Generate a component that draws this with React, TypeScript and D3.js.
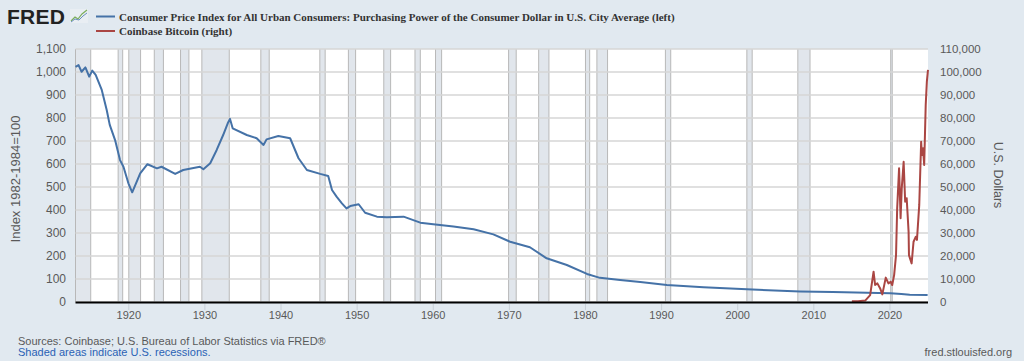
import React from "react";
import * as d3 from "d3";

// Purchasing power of the consumer dollar (index 1982-1984=100), [year, value]
const cpiPower: [number, number][] = [
  [1913.0, 1022], [1913.4, 1030], [1913.8, 1001], [1914.3, 1020], [1914.8, 980],
  [1915.2, 1006], [1915.65, 987], [1916.45, 922], [1917.1, 835], [1917.5, 770],
  [1918.2, 704], [1918.85, 617], [1919.3, 588], [1919.95, 516], [1920.45, 477],
  [1920.95, 516], [1921.5, 559], [1922.45, 599], [1923.7, 581], [1924.3, 588],
  [1926.1, 557], [1927.15, 574], [1929.35, 588], [1929.8, 577], [1930.7, 603],
  [1931.55, 661], [1932.4, 726], [1933.0, 777], [1933.3, 796], [1933.65, 755],
  [1935.5, 726], [1936.8, 712], [1937.7, 683], [1938.1, 707], [1939.65, 722],
  [1941.2, 712], [1942.3, 625], [1943.4, 574], [1945.15, 557], [1946.2, 548],
  [1946.7, 487], [1947.3, 458], [1948.0, 429], [1948.6, 407], [1949.1, 417],
  [1950.2, 425], [1951.05, 388], [1952.6, 371], [1953.9, 368], [1956.1, 371],
  [1958.3, 345], [1960.0, 338], [1962.65, 328], [1965.3, 316], [1967.9, 294],
  [1970.1, 262], [1972.7, 238], [1974.9, 190], [1977.55, 161], [1980.2, 122],
  [1981.9, 105], [1984.55, 96], [1987.2, 87], [1990.7, 74], [1995.5, 64],
  [2001.2, 55], [2008.2, 46], [2012.5, 43], [2017.0, 40], [2020.05, 38],
  [2021.5, 35], [2022.6, 32], [2024.95, 30],
];

// Coinbase Bitcoin (U.S. dollars), [year, value]
const bitcoin: [number, number][] = [
  [2015.0, 300], [2015.8, 350], [2016.75, 600], [2017.4, 3000], [2017.85, 13200],
  [2018.05, 7400], [2018.35, 8100], [2018.7, 6000], [2019.0, 3300], [2019.45, 10600],
  [2019.8, 8100], [2020.1, 8800], [2020.3, 7400], [2020.55, 11700], [2020.8, 20400],
  [2020.95, 40700], [2021.2, 58100], [2021.4, 36400], [2021.55, 49400], [2021.8, 61000],
  [2022.0, 43600], [2022.2, 45100], [2022.45, 30600], [2022.5, 20400], [2022.85, 16800],
  [2023.1, 26200], [2023.4, 28400], [2023.55, 27000], [2023.85, 42200], [2024.1, 69700],
  [2024.2, 63900], [2024.35, 66800], [2024.5, 59600], [2024.7, 85700], [2024.85, 95800],
  [2025.0, 100900],
];

// NBER recessions, [start, end]
const recessions: [number, number][] = [
  [1913.0, 1915.0], [1918.6, 1919.2], [1920.0, 1921.55], [1923.35, 1924.55],
  [1926.8, 1927.9], [1929.6, 1933.2], [1937.35, 1938.45], [1945.1, 1945.8],
  [1948.85, 1949.8], [1953.5, 1954.4], [1957.6, 1958.3], [1960.3, 1961.1],
  [1969.9, 1970.9], [1973.85, 1975.2], [1980.0, 1980.55], [1981.5, 1982.9],
  [1990.5, 1991.2], [2001.2, 2001.9], [2007.9, 2009.5], [2020.1, 2020.3],
];

const yearTicks = [1920, 1930, 1940, 1950, 1960, 1970, 1980, 1990, 2000, 2010, 2020];
const leftTicks = d3.range(0, 1101, 100);
const rightTicks = d3.range(0, 110001, 10000);

const W = 1024;
const H = 361;
const plot = { left: 75.5, right: 928, top: 49, bottom: 302 };

const App = () => {
  const x = d3.scaleLinear().domain([1913, 2025]).range([plot.left, plot.right]);
  const yL = d3.scaleLinear().domain([0, 1100]).range([plot.bottom, plot.top]);
  const yR = d3.scaleLinear().domain([0, 110000]).range([plot.bottom, plot.top]);
  const fmt = d3.format(",");

  const lineL = d3
    .line<[number, number]>()
    .x((d) => x(d[0]))
    .y((d) => yL(d[1]));
  const lineR = d3
    .line<[number, number]>()
    .x((d) => x(d[0]))
    .y((d) => yR(d[1]));

  const sans = "'Liberation Sans', Arial, sans-serif";
  const serif = "'Liberation Serif', 'Times New Roman', serif";

  return (
    <svg
      width={W}
      height={H}
      style={{ position: "absolute", left: 0, top: 0, display: "block" }}
    >
      <rect width={W} height={H} fill="#e1e9f0" />

      {/* logo */}
      <text x={7} y={24} fontFamily={sans} fontWeight="bold" fontSize={21} fill="#222" textLength={58}>
        FRED
      </text>
      <g transform="translate(70,9)">
        <rect width={18} height={14} fill="#e9eef3" />
        <polyline points="1,12 5,8 8,10 12,5 17,1" fill="none" stroke="#7cae5b" strokeWidth={1.2} />
        <polyline points="1,13 5,10 9,11 13,7 17,4" fill="none" stroke="#6b8fbf" strokeWidth={1} />
      </g>

      {/* legend */}
      <line x1={96} x2={115} y1={16.5} y2={16.5} stroke="#4572a7" strokeWidth={2} />
      <text x={119} y={20.5} fontFamily={serif} fontWeight="bold" fontSize={11} fill="#333">
        Consumer Price Index for All Urban Consumers: Purchasing Power of the Consumer Dollar in U.S. City Average (left)
      </text>
      <line x1={96} x2={115} y1={31} y2={31} stroke="#aa4643" strokeWidth={2} />
      <text x={119} y={35} fontFamily={serif} fontWeight="bold" fontSize={11} fill="#333">
        Coinbase Bitcoin (right)
      </text>

      {/* plot area */}
      <rect
        x={plot.left}
        y={plot.top}
        width={plot.right - plot.left}
        height={plot.bottom - plot.top}
        fill="#fff"
      />
      {recessions.map(([s, e], i) => (
        <g key={i}>
          <rect x={x(s)} y={plot.top} width={Math.max(1, x(e) - x(s))} height={plot.bottom - plot.top} fill="#e1e6ec" />
          <line x1={x(s)} x2={x(s)} y1={plot.top} y2={plot.bottom} stroke="#b8b8b8" strokeWidth={1} />
          <line x1={x(e)} x2={x(e)} y1={plot.top} y2={plot.bottom} stroke="#b8b8b8" strokeWidth={1} />
        </g>
      ))}
      {leftTicks.map((t) => (
        <line key={t} x1={plot.left} x2={plot.right} y1={yL(t)} y2={yL(t)} stroke="#d6d6d6" strokeWidth={1.5} />
      ))}

      {/* series */}
      <path d={lineL(cpiPower) ?? ""} fill="none" stroke="#4572a7" strokeWidth={2} strokeLinejoin="round" />
      <path d={lineR(bitcoin) ?? ""} fill="none" stroke="#aa4643" strokeWidth={2} strokeLinejoin="round" />

      {/* x axis */}
      <line x1={plot.left} x2={plot.right} y1={plot.bottom + 0.5} y2={plot.bottom + 0.5} stroke="#000" strokeWidth={2} />
      {yearTicks.map((t) => (
        <g key={t}>
          <line x1={x(t)} x2={x(t)} y1={plot.bottom + 2} y2={plot.bottom + 8} stroke="#c8d0d8" strokeWidth={1} />
          <text x={x(t)} y={319} textAnchor="middle" fontFamily={sans} fontSize={11} fill="#595959">
            {t}
          </text>
        </g>
      ))}

      {/* y axes */}
      {leftTicks.map((t) => (
        <text key={t} x={66} y={yL(t) + 4} textAnchor="end" fontFamily={sans} fontSize={12} fill="#595959">
          {fmt(t)}
        </text>
      ))}
      {rightTicks.map((t) => (
        <text key={t} x={940} y={yR(t) + 4} textAnchor="start" fontFamily={sans} fontSize={11.5} fill="#595959">
          {fmt(t)}
        </text>
      ))}
      <text
        transform="translate(19.5,179) rotate(-90)"
        textAnchor="middle"
        fontFamily={sans}
        fontSize={13}
        fill="#595959"
      >
        Index 1982-1984=100
      </text>
      <text
        transform="translate(994,175) rotate(90)"
        textAnchor="middle"
        fontFamily={sans}
        fontSize={12.5}
        fill="#595959"
      >
        U.S. Dollars
      </text>

      {/* footer */}
      <text x={18} y={345} fontFamily={sans} fontSize={11} fill="#595959">
        Sources: Coinbase; U.S. Bureau of Labor Statistics via FRED®
      </text>
      <text x={18} y={356} fontFamily={sans} fontSize={11} fill="#2a62b5">
        Shaded areas indicate U.S. recessions.
      </text>
      <text x={1012} y={356} textAnchor="end" fontFamily={sans} fontSize={11} fill="#595959">
        fred.stlouisfed.org
      </text>
    </svg>
  );
};

export default App;
